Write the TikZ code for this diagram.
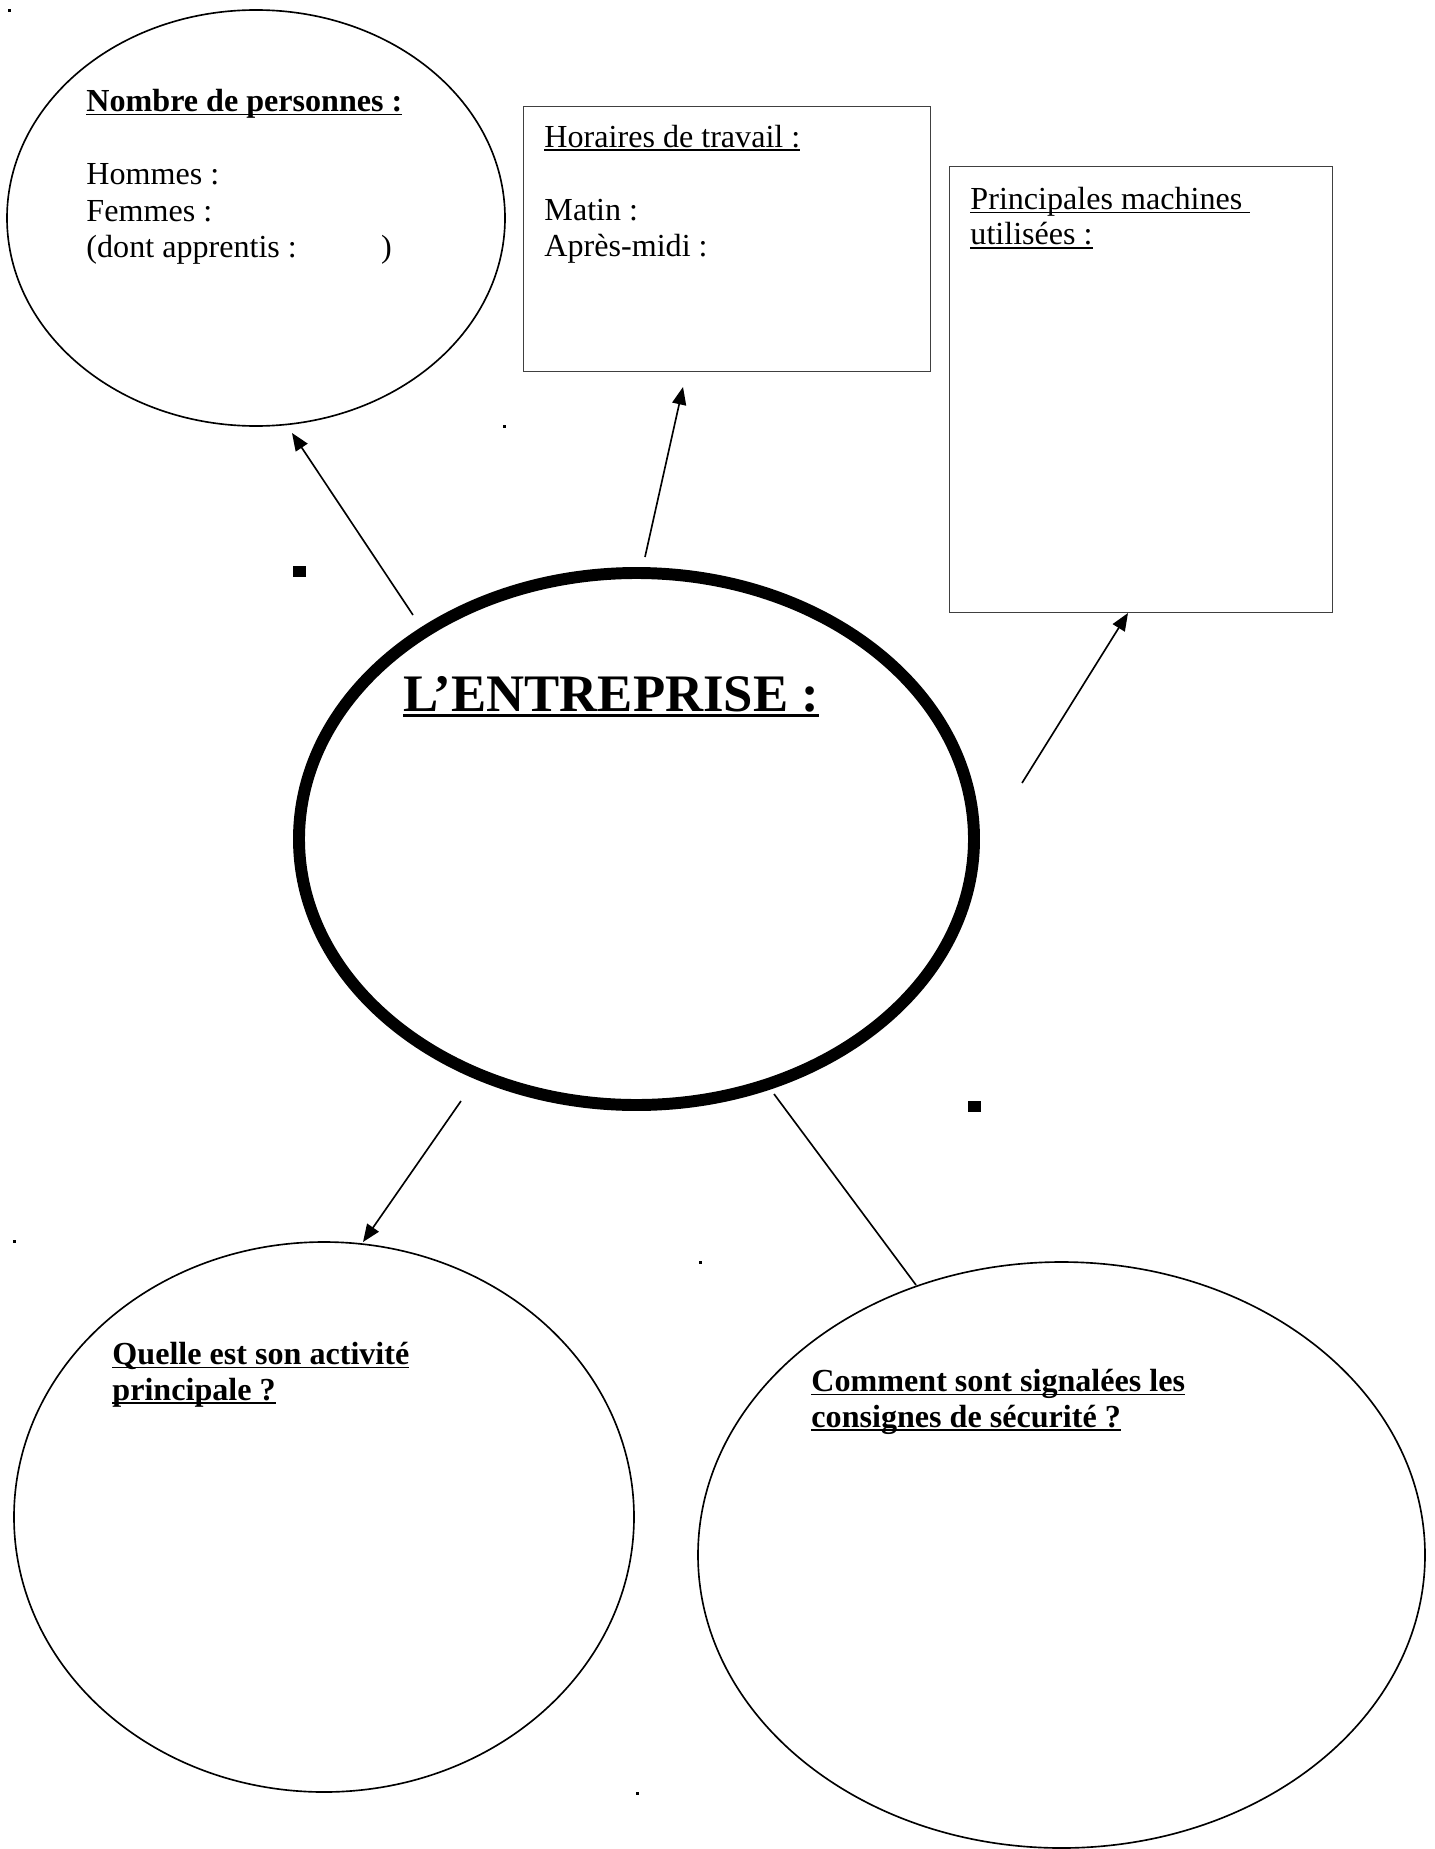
\documentclass[tikz,border=0pt]{standalone}
\usepackage{fontspec}
\setmainfont{Liberation Serif}
\usetikzlibrary{shapes.geometric,arrows.meta}

\newcommand{\px}{0.4268pt}
\newcommand{\trait}[3]{\setbox0\hbox{#3}\rlap{\rule[-#1]{\wd0}{#2}}\box0}
\newcommand{\ligne}[1]{\trait{1.5pt}{0.6pt}{#1}}

\tikzset{
  bulle/.style={draw, ellipse, line width=0.7pt, inner sep=0pt},
  cadre/.style={draw=black!75, line width=0.6pt, inner sep=0pt, anchor=north west},
  fleche/.style={line width=0.7pt, -{Triangle[length=7.5pt,width=6pt]}},
  texte/.style={anchor=base west, inner sep=0pt, align=left,
    font=\fontsize{13.7pt}{15.6pt}\selectfont}
}

\begin{document}
\begin{tikzpicture}[x=0.4268pt, y=-0.4268pt]
  \useasboundingbox (0,0) rectangle (1434,1849);
  \node[bulle, minimum width=498*\px, minimum height=416*\px] (pers) at (256,218) {};
  \node[cadre, minimum width=407*\px, minimum height=265*\px] (hor) at (523,106) {};
  \node[cadre, minimum width=383*\px, minimum height=446*\px] (mach) at (949,166) {};
  \node[bulle, line width=5.1pt, minimum width=675*\px, minimum height=532*\px] (ent) at (636.5,839) {};
  \node[bulle, minimum width=620*\px, minimum height=550*\px] (act) at (324,1517) {};
  \node[bulle, minimum width=727*\px, minimum height=586*\px] (secu) at (1061.5,1555) {};

  % base = last line
  \node[texte] (t-pers) at (86,258) {\textbf{\ligne{Nombre de personnes :}}\\[15.6pt]
    Hommes :\\ Femmes :\\ (dont apprentis :\hspace{36pt})};
  \node[texte] (t-hor) at (544,257) {\ligne{Horaires de travail :}\\[15.6pt]
    Matin :\\ Après-midi :};
  \node[texte, font=\fontsize{13.7pt}{15pt}\selectfont] (t-mach) at (970,245)
    {\ligne{Principales machines\ }\\ \ligne{utilisées :}};
  \node[anchor=base west, inner sep=0pt, font=\fontsize{22.5pt}{27pt}\selectfont\bfseries] (t-ent)
    at (403,711) {\trait{2.6pt}{1.2pt}{L’ENTREPRISE :}};
  \node[texte, font=\fontsize{13.7pt}{15pt}\selectfont\bfseries] (t-act) at (112,1400)
    {\ligne{Quelle est son activité}\\ \ligne{principale ?}};
  \node[texte, font=\fontsize{13.7pt}{15pt}\selectfont\bfseries] (t-secu) at (811,1427)
    {\ligne{Comment sont signalées les}\\ \ligne{consignes de sécurité ?}};

  \coordinate (d1) at (413,615);  \coordinate (f1) at (292,433);
  \coordinate (d2) at (645,557);  \coordinate (f2) at (683,387);
  \coordinate (d3) at (1022,783); \coordinate (f3) at (1128,613);
  \coordinate (d4) at (461,1101); \coordinate (f4) at (363,1242);
  \coordinate (d5) at (774,1094); \coordinate (f5) at (916,1285);
  \draw[fleche] (d1) -- (f1);
  \draw[fleche] (d2) -- (f2);
  \draw[fleche] (d3) -- (f3);
  \draw[fleche] (d4) -- (f4);
  \draw[line width=0.7pt] (d5) -- (f5);

  \fill (293,566) rectangle (306,577);
  \fill (968,1101) rectangle (981,1112);
  \fill (8,9) rectangle (11,12);
  \fill (503,425) rectangle (506,428);
  \fill (13,1240) rectangle (16,1243);
  \fill (699,1261) rectangle (702,1264);
  \fill (636,1792) rectangle (639,1795);
\end{tikzpicture}
\end{document}
